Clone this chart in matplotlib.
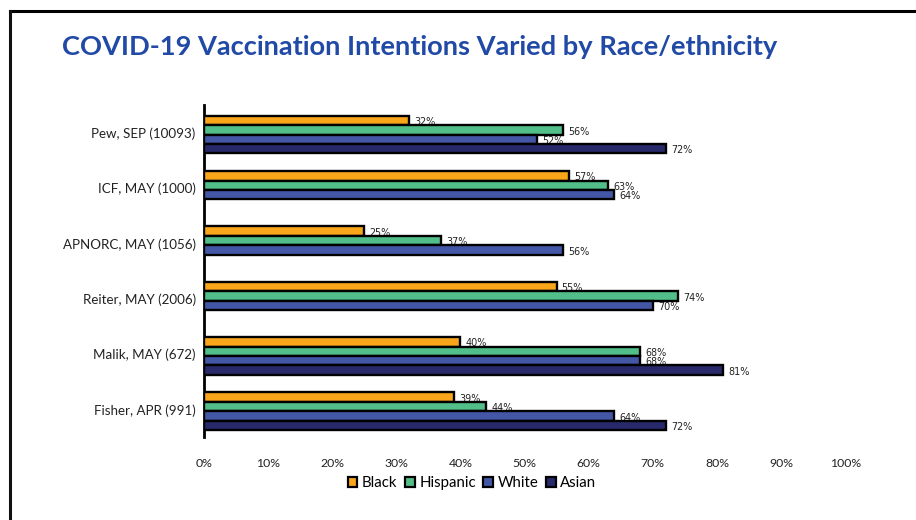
import matplotlib
matplotlib.use('Agg')
import matplotlib.pyplot as plt
from matplotlib.patches import Patch
from matplotlib.lines import Line2D
import numpy as np

# survey data (percent intending to vaccinate)
studies = ['Pew, SEP (10093)', 'ICF, MAY (1000)', 'APNORC, MAY (1056)',
           'Reiter, MAY (2006)', 'Malik, MAY (672)', 'Fisher, APR (991)']
black = [32, 57, 25, 55, 40, 39]
hispanic = [56, 63, 37, 74, 68, 44]
white = [52, 64, 56, 70, 68, 64]
asian = [72, None, None, None, 81, 72]

series = ['Black', 'Hispanic', 'White', 'Asian']
colors = ['#F9A61B', '#52BE89', '#4457A6', '#28296B']
ticks = [0, 10, 20, 30, 40, 50, 60, 70, 80, 90, 100]

fig = plt.figure(figsize=(9.16, 5.2), dpi=100)
ax = fig.add_axes([0.2227, 0.1596, 0.7, 0.6385])

# slide frame lines
fig.add_artist(Line2D([9.5/916, 1], [1 - 11/520, 1 - 11/520], color='black', lw=2.2))
fig.add_artist(Line2D([9.5/916, 9.5/916], [0, 1 - 11/520], color='#111111', lw=2.2))

fig.text(62/916, 1 - 47/520, 'COVID-19 Vaccination Intentions Varied by Race/ethnicity',
         fontsize=19.6, fontweight='bold', color='#2149A6', family='Lato', va='center')

h = 0.17
y = np.arange(len(studies))
for k, (vals, col) in enumerate(zip([black, hispanic, white, asian], colors)):
    off = (k - 1.5) * h + 0.035
    for i, v in enumerate(vals):
        if v is None:
            continue
        ax.barh(y[i] + off, v, height=h, color=col, edgecolor='black', linewidth=1.7, zorder=3)
        ax.text(v + 0.8, y[i] + off + 0.03, f'{v}%', fontsize=6.9, va='center', ha='left',
                color='#222222', zorder=2)

ax.set_ylim(len(studies) - 0.5, -0.5)
ax.set_xlim(0, 100)
ax.set_yticks(y)
ax.set_yticklabels(studies, family='Lato', fontsize=9.6, color='#222222')
ax.set_xticks(ticks)
ax.set_xticklabels([f'{t}%' for t in ticks], family='Lato', fontsize=8.8, color='#222222')
ax.tick_params(axis='both', length=0)
ax.tick_params(axis='x', pad=15)
ax.tick_params(axis='y', pad=6)
for s in ['top', 'right', 'bottom']:
    ax.spines[s].set_visible(False)
ax.spines['left'].set_linewidth(2)

handles = [Patch(facecolor=c, edgecolor='black', linewidth=1.6) for c in colors]
fig.legend(handles, series, loc='center', bbox_to_anchor=(472/916, 1 - 483/520), ncol=4,
           frameon=False, handlelength=0.65, handleheight=0.65, handletextpad=0.3,
           columnspacing=0.5, prop={'family': 'Lato', 'size': 10.8})

fig.savefig('out.png', dpi=100)
